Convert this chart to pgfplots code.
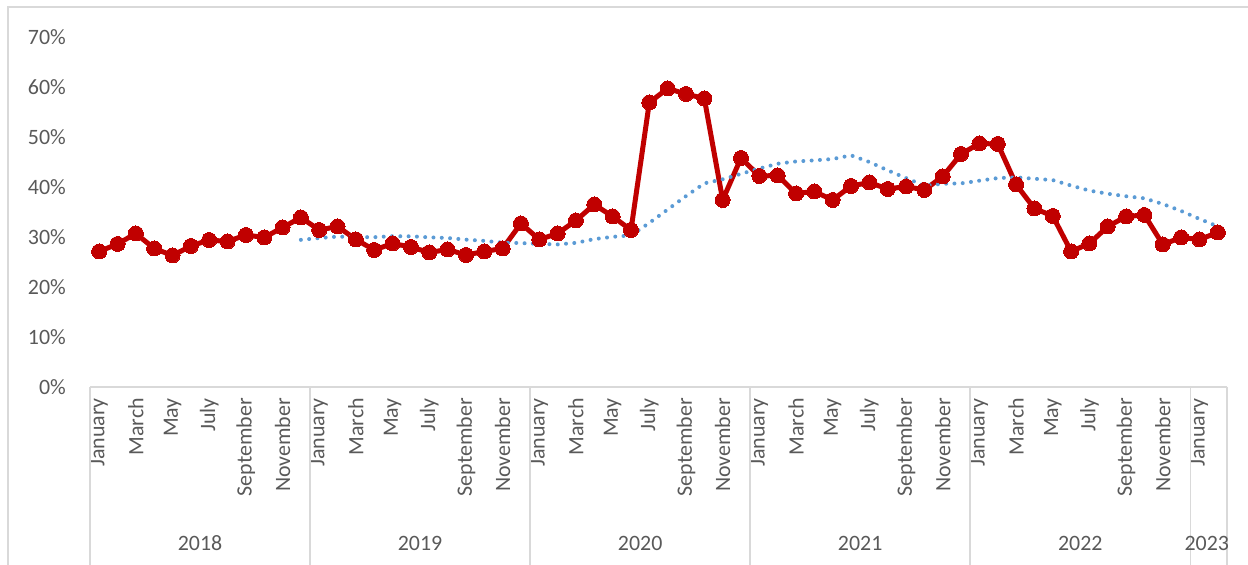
\documentclass[border=0pt]{standalone}
\usepackage{fontspec}
\setmainfont{Carlito}
\usepackage{pgfplots}
\pgfplotsset{compat=1.18}
\definecolor{redline}{HTML}{C00000}
\definecolor{blueline}{HTML}{5B9BD5}
\definecolor{axisgray}{HTML}{D9D9D9}
\definecolor{textgray}{HTML}{595959}
\newcommand{\lblfont}{\fontsize{22}{24}\selectfont}
\begin{document}
\begin{tikzpicture}[x=1bp,y=1bp]
\useasboundingbox (0,0) rectangle (1248,565);
\begin{scope}
\clip (0,0) rectangle (1248,565);
\draw[axisgray, line width=1.5bp] (8,-5) -- (8,558) -- (1260,558);
\end{scope}
\begin{axis}[
  at={(90bp,178bp)}, anchor=south west,
  width=1137bp, height=350bp, scale only axis,
  xmin=-0.5, xmax=61.5, ymin=0, ymax=70,
  clip=false,
  axis x line*=bottom, axis y line*=left,
  x axis line style={axisgray, line width=1.5bp, -},
  y axis line style={draw=none},
  major tick length=0pt,
  ytick={0,10,...,70},
  /pgf/number format/assume math mode=true,
  yticklabel={\pgfmathprintnumber{\tick}\%},
  yticklabel style={textgray, font=\lblfont, anchor=east, inner sep=0pt, xshift=-24bp},
  xtick={0,2,...,60},
  xticklabels={January,March,May,July,September,November,
               January,March,May,July,September,November,
               January,March,May,July,September,November,
               January,March,May,July,September,November,
               January,March,May,July,September,November,
               January},
  xticklabel style={yshift=-11bp, rotate=90, anchor=east, textgray, font=\lblfont, inner sep=0pt},
]
\addplot[redline, line width=5bp, mark=*, mark size=7.5bp, mark options={fill=redline, draw=redline, line width=0pt}] coordinates {
(0,27.1) (1,28.6) (2,30.7) (3,27.7) (4,26.3) (5,28.2) (6,29.4) (7,29.1) (8,30.4) (9,29.9) (10,31.9) (11,33.9)
(12,31.4) (13,32.1) (14,29.5) (15,27.4) (16,28.7) (17,28.0) (18,26.9) (19,27.5) (20,26.4) (21,27.1) (22,27.7) (23,32.7)
(24,29.5) (25,30.7) (26,33.3) (27,36.5) (28,34.1) (29,31.4) (30,56.9) (31,59.7) (32,58.6) (33,57.7) (34,37.4) (35,45.8)
(36,42.2) (37,42.3) (38,38.7) (39,39.1) (40,37.4) (41,40.2) (42,40.9) (43,39.6) (44,40.1) (45,39.4) (46,42.1) (47,46.6)
(48,48.7) (49,48.6) (50,40.5) (51,35.7) (52,34.2) (53,27.1) (54,28.7) (55,32.1) (56,34.1) (57,34.4) (58,28.5) (59,29.9)
(60,29.5) (61,30.9)
};
\addplot[blueline, line width=4bp, dash pattern=on 0bp off 8.3bp, line cap=round] coordinates {
(11,29.43) (12,29.79) (13,30.08) (14,29.98) (15,29.96) (16,30.16) (17,30.14) (18,29.93) (19,29.80) (20,29.47)
(21,29.23) (22,28.88) (23,28.78) (24,28.63) (25,28.51) (26,28.83) (27,29.58) (28,30.03) (29,30.32) (30,32.82)
(31,35.50) (32,38.18) (33,40.73) (34,41.54) (35,42.63) (36,43.69) (37,44.66) (38,45.11) (39,45.33) (40,45.60)
(41,46.33) (42,45.00) (43,43.33) (44,41.78) (45,40.26) (46,40.65) (47,40.72) (48,41.26) (49,41.78) (50,41.93)
(51,41.65) (52,41.38) (53,40.29) (54,39.28) (55,38.65) (56,38.15) (57,37.73) (58,36.60) (59,35.21) (60,33.61)
(61,32.13)
};
\pgfplotsinvokeforeach{-0.5,11.5,23.5,35.5,47.5,59.5,61.5}{
  \draw[axisgray, line width=1.5bp] (axis cs:#1,0) -- ([yshift=-178bp]axis cs:#1,0);
}
\node[textgray, font=\lblfont] at ([yshift=-156bp]axis cs:5.5,0) {2018};
\node[textgray, font=\lblfont] at ([yshift=-156bp]axis cs:17.5,0) {2019};
\node[textgray, font=\lblfont] at ([yshift=-156bp]axis cs:29.5,0) {2020};
\node[textgray, font=\lblfont] at ([yshift=-156bp]axis cs:41.5,0) {2021};
\node[textgray, font=\lblfont] at ([yshift=-156bp]axis cs:53.5,0) {2022};
\node[textgray, font=\lblfont] at ([yshift=-156bp]axis cs:60.4,0) {2023};
\end{axis}
\end{tikzpicture}
\end{document}
